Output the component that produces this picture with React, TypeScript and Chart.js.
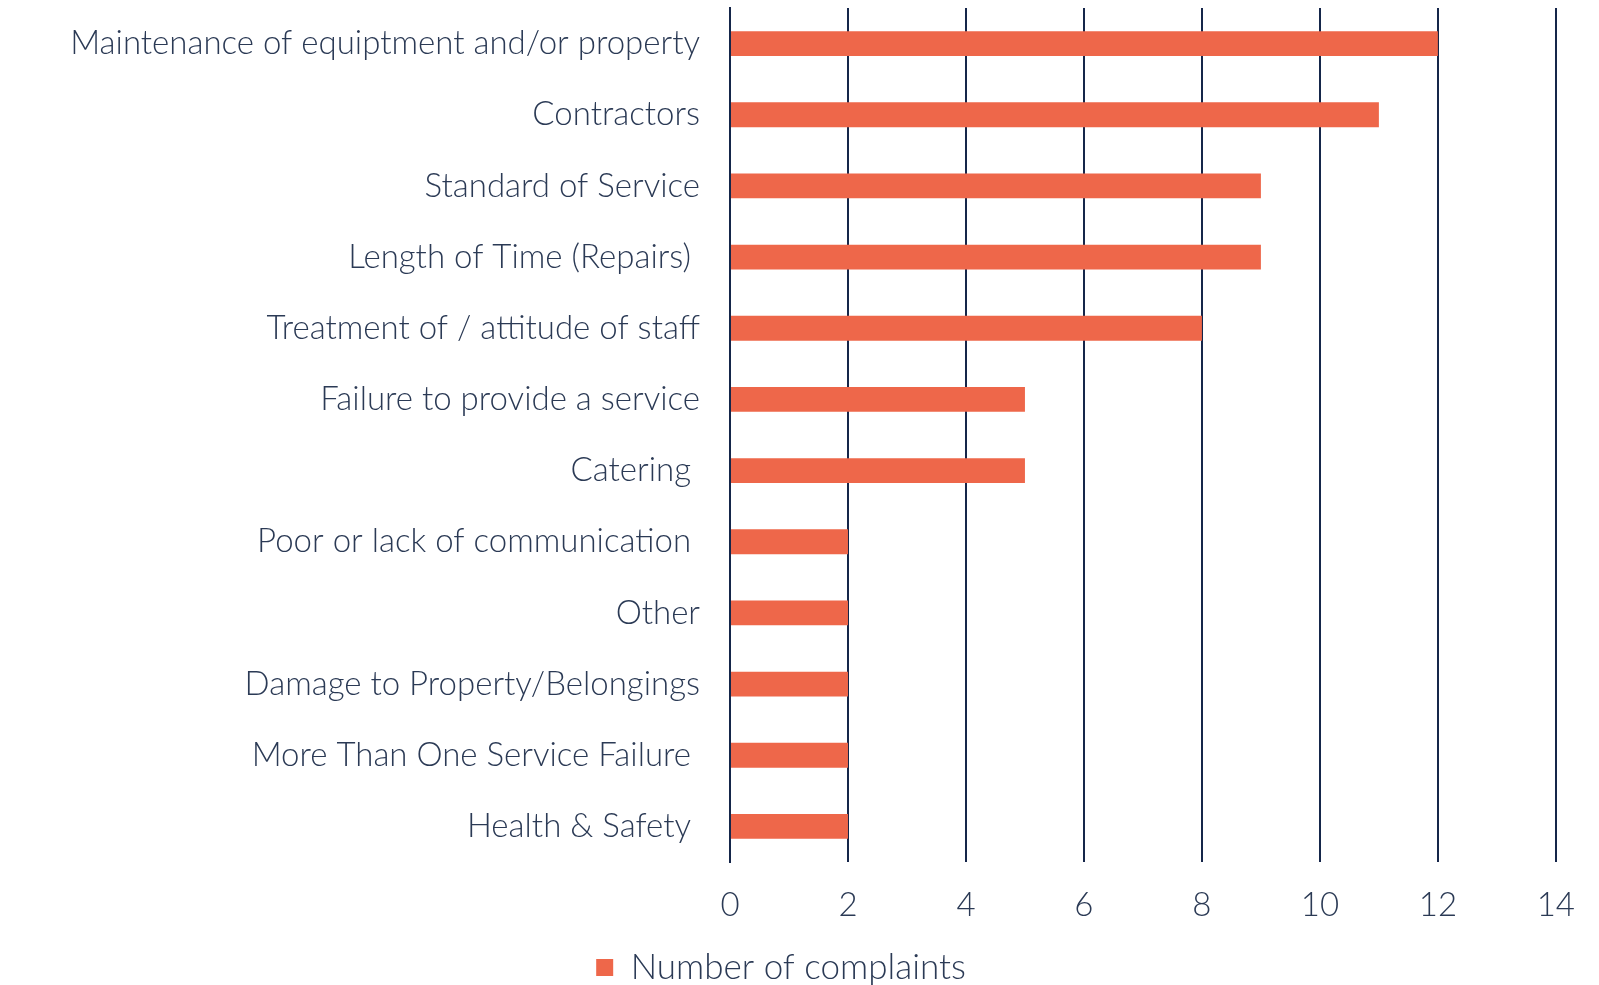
import React, { useEffect, useRef } from "react";
import { Chart, registerables } from "chart.js";

Chart.register(...registerables);

const categories = [
  "Maintenance of equiptment and/or property",
  "Contractors",
  "Standard of Service",
  "Length of Time (Repairs) ",
  "Treatment of / attitude of staff",
  "Failure to provide a service",
  "Catering ",
  "Poor or lack of communication ",
  "Other",
  "Damage to Property/Belongings",
  "More Than One Service Failure ",
  "Health & Safety ",
];
const complaints = [12, 11, 9, 9, 8, 5, 5, 2, 2, 2, 2, 2];
const xTicks = [0, 2, 4, 6, 8, 10, 12, 14];

const FONT = "Lato, 'Open Sans', sans-serif";
const TEXT = "#2B3A55";
const GRID = "#15264A";
const BAR = "#EE674A";

export default function App() {
  const ref = useRef<HTMLCanvasElement | null>(null);
  useEffect(() => {
    if (!ref.current) return;
    const chart = new Chart(ref.current, {
      type: "bar",
      data: {
        labels: categories,
        datasets: [
          {
            label: "Number of complaints",
            data: complaints,
            backgroundColor: BAR,
            borderWidth: 0,
            categoryPercentage: 1,
            barPercentage: 0.35,
          },
        ],
      },
      options: {
        indexAxis: "y",
        animation: false,
        responsive: false,
        maintainAspectRatio: false,
        layout: { padding: { top: 8, right: 37, bottom: -10, left: 0 } },
        plugins: {
          tooltip: { enabled: false },
          legend: {
            position: "bottom",
            labels: {
              boxWidth: 17,
              boxHeight: 17,
              color: TEXT,
              font: { family: FONT, size: 35, weight: "300" },
              padding: 1,
            },
          },
        },
        scales: {
          x: {
            min: 0,
            max: 14,
            afterBuildTicks: (s: any) => {
              s.ticks = xTicks.map((v) => ({ value: v }));
            },
            grid: { color: GRID, lineWidth: 2, drawTicks: false },
            border: { display: false },
            ticks: {
              color: TEXT,
              padding: 24,
              font: { family: FONT, size: 33, weight: "300" },
            },
            afterFit: (s: any) => {
              s.height = 87;
            },
          },
          y: {
            grid: { display: false },
            border: { display: true, color: GRID, width: 2 },
            ticks: {
              color: TEXT,
              padding: 22,
              autoSkip: false,
              font: { family: FONT, size: 33, weight: "300" },
            },
            afterFit: (s: any) => {
              s.width = 730;
              s.paddingTop = 0;
              s.paddingBottom = 0;
            },
          },
        },
      },
    });
    return () => chart.destroy();
  }, []);
  return (
    <div style={{ position: "absolute", left: 0, top: 0, width: 1599, height: 985, background: "#fff" }}>
      <canvas ref={ref} width={1599} height={985} />
    </div>
  );
}
